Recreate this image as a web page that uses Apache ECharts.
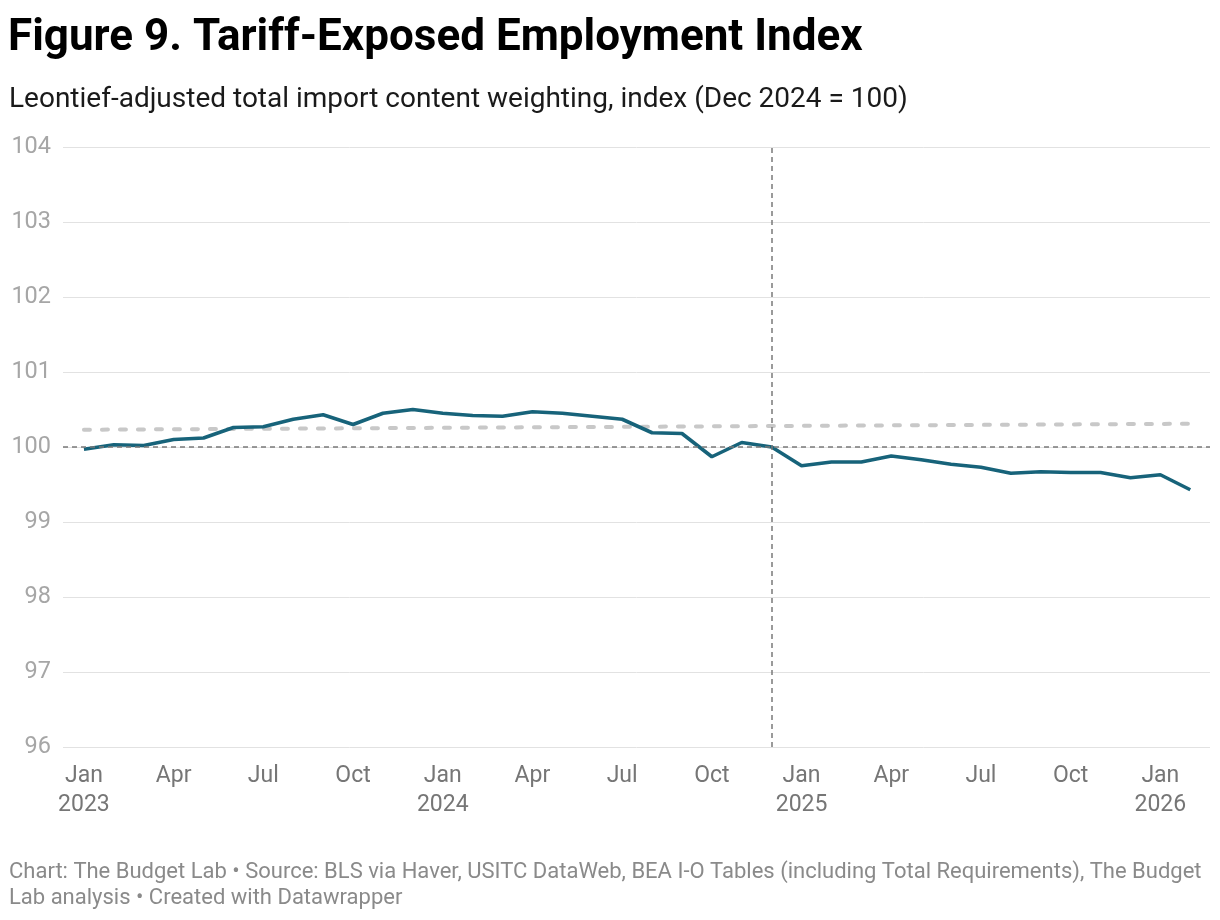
<!DOCTYPE html>
<html>
<head>
<meta charset="utf-8">
<script src="https://cdn.jsdelivr.net/npm/echarts@6/dist/echarts.min.js"></script>
<style>
  html, body { margin: 0; padding: 0; background: #fff; }
  #chart { width: 1220px; height: 920px; }
</style>
</head>
<body>
<div id="chart"></div>
<script>
// monthly index, Jan 2023 .. Feb 2026
var months = ['Jan', 'Feb', 'Mar', 'Apr', 'May', 'Jun', 'Jul', 'Aug', 'Sep', 'Oct', 'Nov', 'Dec'];
var startYear = 2023;
var employment = [
    99.97, 100.03, 100.02, 100.10, 100.12, 100.26, 100.27, 100.37, 100.43, 100.30, 100.45, 100.50,
    100.45, 100.42, 100.41, 100.47, 100.45, 100.41, 100.37, 100.19, 100.18, 99.87, 100.06, 100.00,
    99.75, 99.80, 99.80, 99.88, 99.83, 99.77, 99.73, 99.65, 99.67, 99.66, 99.66, 99.59,
    99.63, 99.43
];
// trend line: first and last month only
var trendStart = 100.23;
var trendEnd = 100.31;
var markerMonth = 23; // Dec 2024
var tickMonths = [0, 3, 6, 9, 12, 15, 18, 21, 24, 27, 30, 33, 36];

var chart = echarts.init(document.getElementById('chart'));

var lineData = employment.map(function (v, i) { return [i, v]; });
var trendData = [[0, trendStart], [employment.length - 1, trendEnd]];

var option = {
    animation: false,
    textStyle: { fontFamily: 'Roboto' },
    title: [{
        text: 'Figure 9. Tariff-Exposed Employment Index',
        left: 8, top: 17, padding: 0,
        textStyle: { fontSize: 44, fontWeight: 'bold', color: '#000', fontFamily: 'Roboto' }
    }, {
        text: 'Leontief-adjusted total import content weighting, index (Dec 2024 = 100)',
        left: 9, top: 86, padding: 0,
        textStyle: { fontSize: 28, fontWeight: 'normal', color: '#1a1a1a', fontFamily: 'Roboto' }
    }, {
        text: 'Chart: The Budget Lab • Source: BLS via Haver, USITC DataWeb, BEA I-O Tables (including Total Requirements), The Budget\nLab analysis • Created with Datawrapper',
        left: 9, top: 859, padding: 0,
        textStyle: { fontSize: 22, fontWeight: 'normal', color: '#8a8a8a', lineHeight: 26, fontFamily: 'Roboto' }
    }],
    grid: { left: 63, right: 10, top: 147, bottom: 173 },
    xAxis: {
        type: 'value',
        min: -0.70,
        max: 37.66,
        splitLine: { show: false },
        axisLine: { show: false },
        axisTick: { show: false },
        axisLabel: {
            customValues: tickMonths,
            margin: 15,
            fontSize: 23,
            lineHeight: 29,
            color: '#767676',
            formatter: function (v) {
                var m = Math.round(v);
                var name = months[m % 12];
                return m % 12 === 0 ? name + '\n' + (startYear + m / 12) : name;
            }
        }
    },
    yAxis: {
        type: 'value',
        min: 96,
        max: 104,
        interval: 1,
        axisLine: { show: false },
        axisTick: { show: false },
        splitLine: { lineStyle: { color: '#e2e2e2', width: 1 } },
        axisLabel: { fontSize: 23.5, color: '#a6a6a6', margin: 12, verticalAlign: 'middle' }
    },
    series: [{
        name: 'Trend',
        type: 'line',
        data: trendData,
        symbol: 'none',
        lineStyle: { color: '#c8c8c8', width: 4, type: [6, 12], cap: 'round' },
        z: 2
    }, {
        name: 'Tariff-exposed employment',
        type: 'line',
        data: lineData,
        symbol: 'none',
        lineStyle: { color: '#17637a', width: 3.6 },
        z: 4,
        markLine: {
            silent: true,
            symbol: 'none',
            label: { show: false },
            lineStyle: { color: '#7a7a7a', width: 1.5, type: [5, 4] },
            data: [{ yAxis: 100 }, { xAxis: markerMonth }]
        }
    }]
};

chart.setOption(option);
</script>
</body>
</html>
